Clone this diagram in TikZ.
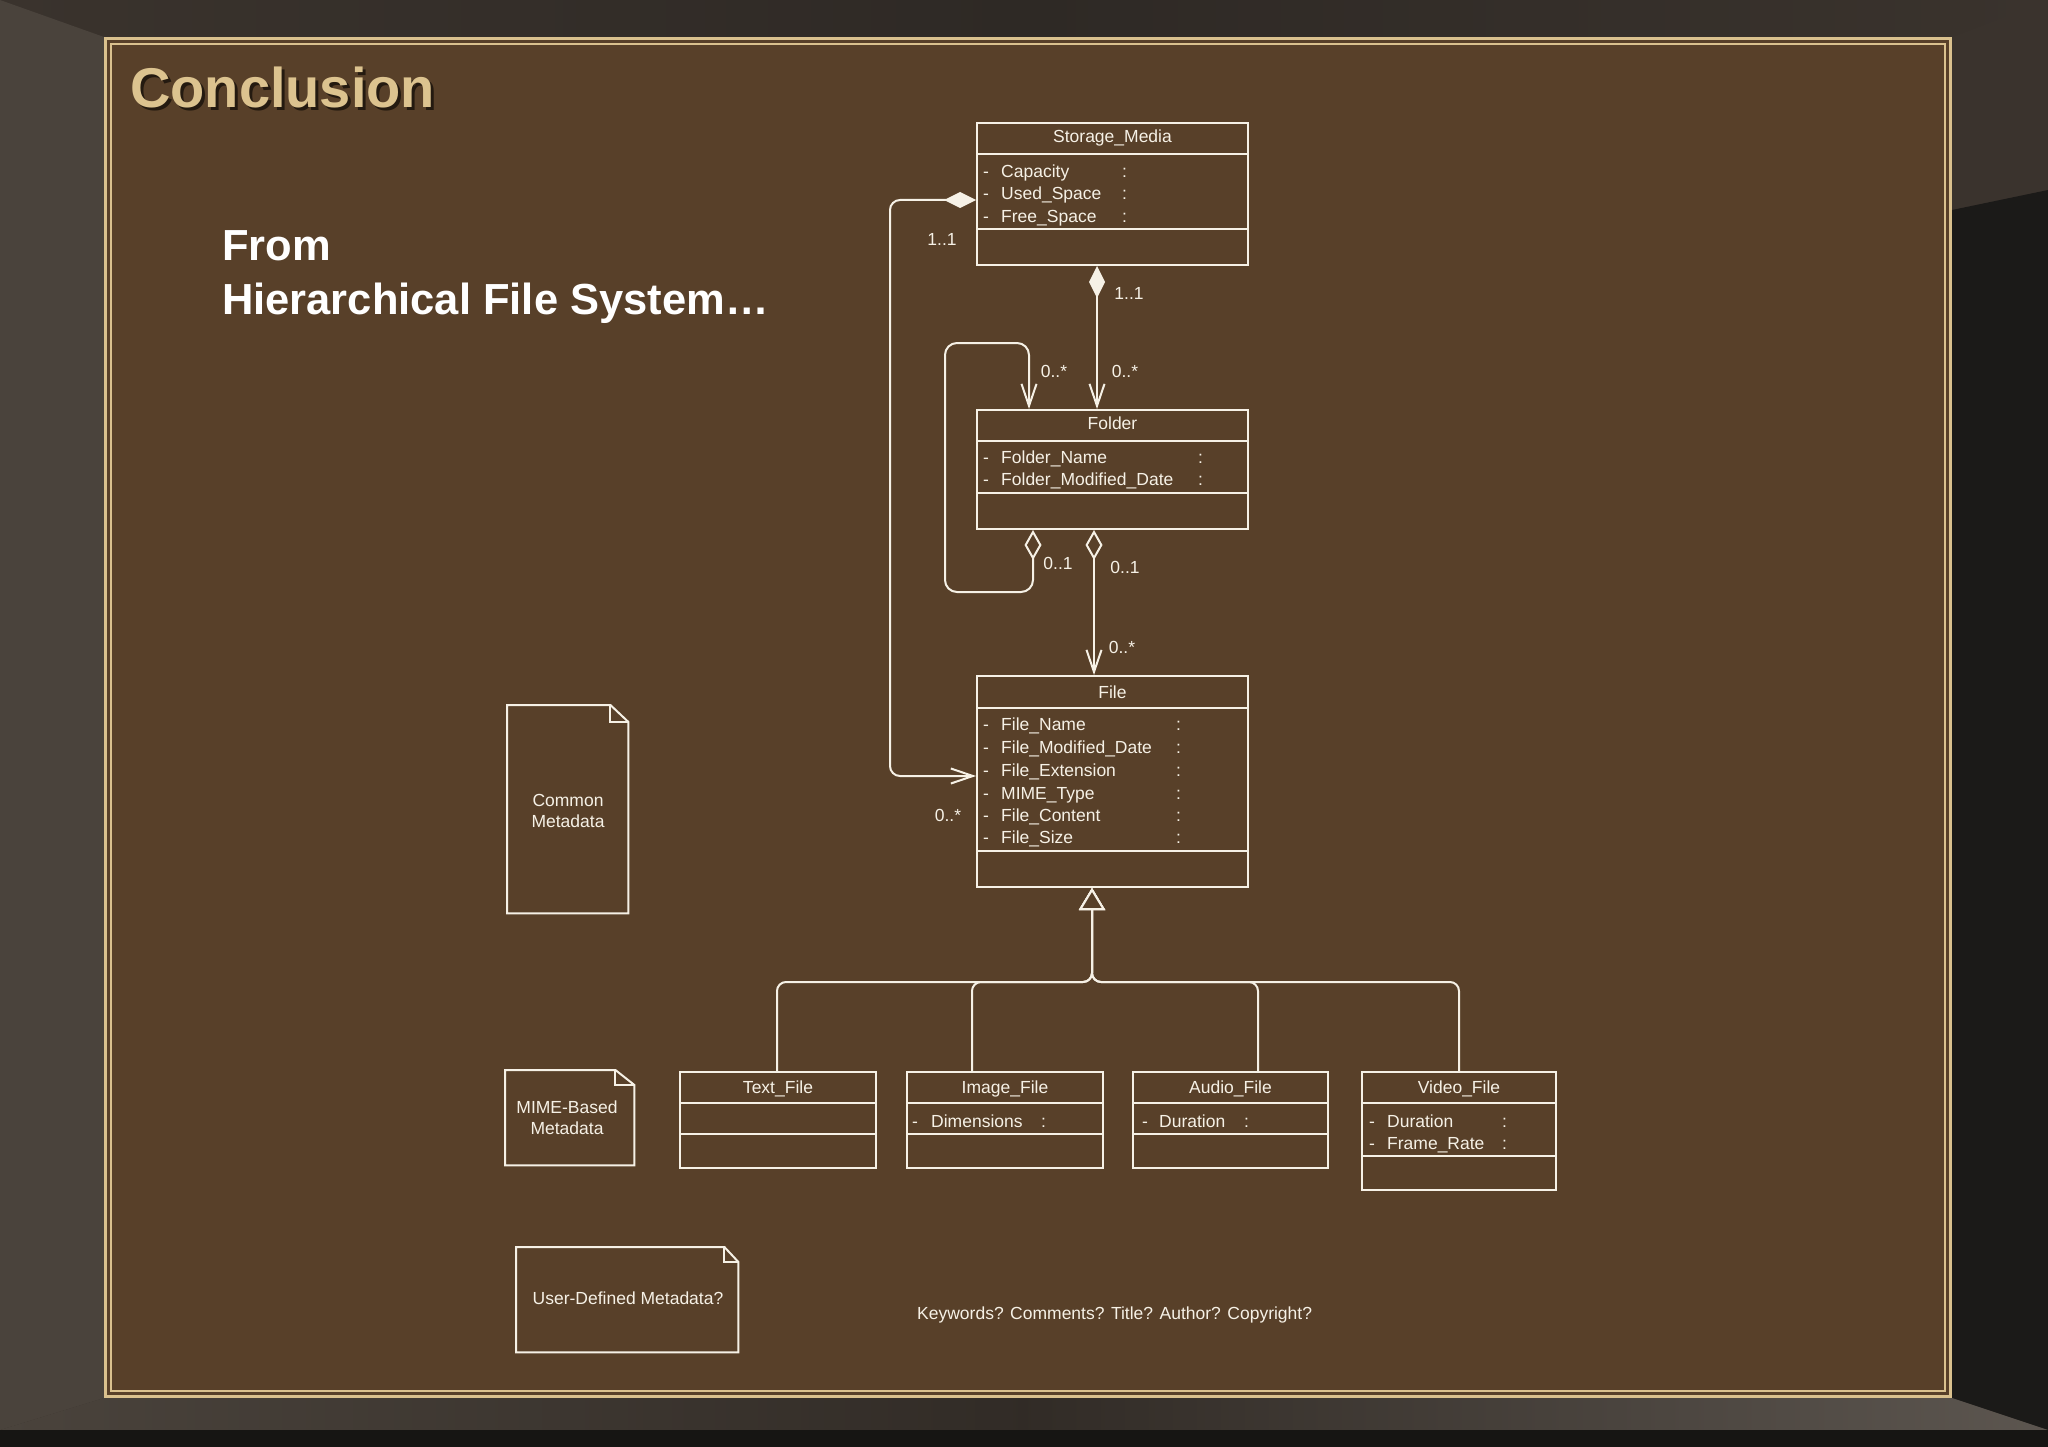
\documentclass[tikz,border=0pt]{standalone}
\usepackage{fontspec}
\setmainfont{Liberation Sans}
\usetikzlibrary{arrows.meta,calc}
\definecolor{panel}{RGB}{88,64,41}
\definecolor{gold}{RGB}{218,193,142}
\definecolor{titlegold}{RGB}{220,195,143}
\definecolor{titleshadow}{RGB}{36,26,16}
\definecolor{ink}{RGB}{246,241,230}
\definecolor{bgmid}{RGB}{58,51,45}
\definecolor{bgleft}{RGB}{74,67,60}
\definecolor{bgtop}{RGB}{46,41,37}
\definecolor{bgdark}{RGB}{27,26,24}
\newcommand\umlfont{\fontsize{17.5}{21}\selectfont}
\tikzset{
  umlbarb/.tip={Straight Barb[length=22pt,width=15pt]},
  umlfdia/.tip={Diamond[length=32pt,width=16pt]},
  umlodia/.tip={Diamond[open,length=30pt,width=17pt]},
  umlgen/.tip={Triangle[open,fill=panel,length=22pt,width=26pt]},
}
\begin{document}
\begin{tikzpicture}[x=1pt,y=-1pt,
  umlbox/.style={draw=ink,line width=2pt,inner sep=0pt,anchor=north west},
  conn/.style={draw=ink,line width=2pt},
  ctitle/.style={text=ink,font=\umlfont,inner sep=0pt,anchor=base},
  attr/.style={text=ink,font=\umlfont,inner sep=0pt,anchor=base west},
  mult/.style={text=ink,font=\umlfont,inner sep=0pt},
  notebox/.style={inner sep=0pt,anchor=north west},
  notetext/.style={text=ink,font=\umlfont,align=center,inner sep=0pt}]
\useasboundingbox (0,0) rectangle (2048,1447);
% ---------- background frame ----------
\fill[bgmid] (0,0) rectangle (2048,1447);
\shade[left color=bgmid,right color=bgmid,middle color=bgtop] (0,0) -- (2048,0) -- (1952,37) -- (104,37) -- cycle;
\fill[bgleft] (0,0) -- (104,37) -- (104,1398) -- (0,1430) -- cycle;
\fill[bgdark] (1952,210) -- (2048,190) -- (2048,1430) -- (1952,1398) -- cycle;
\shade[left color=bgleft,right color=bgleft!90!white,middle color=bgmid!85!black] (104,1398) -- (1952,1398) -- (2048,1430) -- (0,1430) -- cycle;
\fill[bgdark!80!black] (0,1430) rectangle (2048,1447);
% ---------- panel ----------
\fill[panel] (104,37) rectangle (1952,1398);
\draw[gold,line width=3pt] (105.5,38.5) rectangle (1950.5,1396.5);
\draw[gold,line width=2pt] (111,44) rectangle (1945,1391);
% ---------- titles ----------
\node[font=\fontsize{56}{60}\selectfont\bfseries,text=titleshadow,anchor=base west,inner sep=0pt] (titleS) at (133,111) {Conclusion};
\node[font=\fontsize{56}{60}\selectfont\bfseries,text=titlegold,anchor=base west,inner sep=0pt] (title) at (130,108) {Conclusion};
\node[font=\fontsize{43.5}{50}\selectfont\bfseries,text=white,anchor=base west,inner sep=0pt] (from1) at (222,261) {From};
\node[font=\fontsize{43.5}{50}\selectfont\bfseries,text=white,anchor=base west,inner sep=0pt] (from2) at (222,315) {Hierarchical File System…};
% ---------- Storage_Media ----------
\node[umlbox,minimum width=271pt,minimum height=142pt] (sm) at (976,122) {};
\draw[conn] ($(sm.north west)+(0,32)$) -- ($(sm.north east)+(0,32)$);
\draw[conn] ($(sm.north west)+(0,107)$) -- ($(sm.north east)+(0,107)$);
\node[ctitle] (smT) at ($(sm.north)+(0,21)$) {Storage\_Media};
\node[attr] (smA1) at (983,178) {\makebox[18pt][l]{-}\makebox[121pt][l]{Capacity}:};
\node[attr] (smA2) at (983,200) {\makebox[18pt][l]{-}\makebox[121pt][l]{Used\_Space}:};
\node[attr] (smA3) at (983,223) {\makebox[18pt][l]{-}\makebox[121pt][l]{Free\_Space}:};
% ---------- Folder ----------
\node[umlbox,minimum width=271pt,minimum height=119pt] (folder) at (976,409) {};
\draw[conn] ($(folder.north west)+(0,32)$) -- ($(folder.north east)+(0,32)$);
\draw[conn] ($(folder.north west)+(0,84)$) -- ($(folder.north east)+(0,84)$);
\node[ctitle] (folderT) at ($(folder.north)+(0,20)$) {Folder};
\node[attr] (foA1) at (983,463) {\makebox[18pt][l]{-}\makebox[197pt][l]{Folder\_Name}:};
\node[attr] (foA2) at (983,485) {\makebox[18pt][l]{-}\makebox[197pt][l]{Folder\_Modified\_Date}:};
% ---------- File ----------
\node[umlbox,minimum width=271pt,minimum height=211pt] (file) at (976,675) {};
\draw[conn] ($(file.north west)+(0,33)$) -- ($(file.north east)+(0,33)$);
\draw[conn] ($(file.north west)+(0,176)$) -- ($(file.north east)+(0,176)$);
\node[ctitle] (fileT) at ($(file.north)+(0,23)$) {File};
\node[attr] (fiA1) at (983,730) {\makebox[18pt][l]{-}\makebox[175pt][l]{File\_Name}:};
\node[attr] (fiA2) at (983,753) {\makebox[18pt][l]{-}\makebox[175pt][l]{File\_Modified\_Date}:};
\node[attr] (fiA3) at (983,776) {\makebox[18pt][l]{-}\makebox[175pt][l]{File\_Extension}:};
\node[attr] (fiA4) at (983,799) {\makebox[18pt][l]{-}\makebox[175pt][l]{MIME\_Type}:};
\node[attr] (fiA5) at (983,821) {\makebox[18pt][l]{-}\makebox[175pt][l]{File\_Content}:};
\node[attr] (fiA6) at (983,843) {\makebox[18pt][l]{-}\makebox[175pt][l]{File\_Size}:};
% ---------- subclasses ----------
\node[umlbox,minimum width=196pt,minimum height=96pt] (text) at (679,1071) {};
\draw[conn] ($(text.north west)+(0,32)$) -- ($(text.north east)+(0,32)$);
\draw[conn] ($(text.north west)+(0,63)$) -- ($(text.north east)+(0,63)$);
\node[ctitle] (textT) at ($(text.north)+(0,22)$) {Text\_File};
\node[umlbox,minimum width=196pt,minimum height=96pt] (image) at (906,1071) {};
\draw[conn] ($(image.north west)+(0,32)$) -- ($(image.north east)+(0,32)$);
\draw[conn] ($(image.north west)+(0,63)$) -- ($(image.north east)+(0,63)$);
\node[ctitle] (imageT) at ($(image.north)+(0,22)$) {Image\_File};
\node[attr] (imA1) at (912,1127) {\makebox[19pt][l]{-}\makebox[110pt][l]{Dimensions}:};
\node[umlbox,minimum width=195pt,minimum height=96pt] (audio) at (1132,1071) {};
\draw[conn] ($(audio.north west)+(0,32)$) -- ($(audio.north east)+(0,32)$);
\draw[conn] ($(audio.north west)+(0,63)$) -- ($(audio.north east)+(0,63)$);
\node[ctitle] (audioT) at ($(audio.north)+(0,22)$) {Audio\_File};
\node[attr] (auA1) at (1142,1127) {\makebox[17pt][l]{-}\makebox[85pt][l]{Duration}:};
\node[umlbox,minimum width=194pt,minimum height=118pt] (video) at (1361,1071) {};
\draw[conn] ($(video.north west)+(0,32)$) -- ($(video.north east)+(0,32)$);
\draw[conn] ($(video.north west)+(0,85)$) -- ($(video.north east)+(0,85)$);
\node[ctitle] (videoT) at ($(video.north)+(0,22)$) {Video\_File};
\node[attr] (viA1) at (1369,1127) {\makebox[18pt][l]{-}\makebox[115pt][l]{Duration}:};
\node[attr] (viA2) at (1369,1149) {\makebox[18pt][l]{-}\makebox[115pt][l]{Frame\_Rate}:};
% ---------- associations ----------
\draw[conn,umlfdia-umlbarb,rounded corners=10pt] ($(sm.north west)+(0,78)$) -- (890,200) -- (890,776) -- ($(file.north west)+(0,101)$);
\draw[conn,umlfdia-umlbarb] ($(sm.south west)+(121,0)$) -- ($(folder.north west)+(121,0)$);
\draw[conn,umlodia-umlbarb,rounded corners=12pt] ($(folder.south west)+(57,0)$) -- (1033,592) -- (945,592) -- (945,343) -- (1029,343) -- ($(folder.north west)+(53,0)$);
\draw[conn,umlodia-umlbarb] ($(folder.south west)+(118,0)$) -- ($(file.north west)+(118,0)$);
% ---------- multiplicities ----------
\node[mult] (m1) at (942,239) {1..1};
\node[mult] (m2) at (1129,293) {1..1};
\node[mult] (m3) at (1054,371) {0..*};
\node[mult] (m4) at (1125,371) {0..*};
\node[mult] (m5) at (1058,563) {0..1};
\node[mult] (m6) at (1125,567) {0..1};
\node[mult] (m7) at (1122,647) {0..*};
\node[mult] (m8) at (948,815) {0..*};
% ---------- generalization ----------
\draw[conn,-umlgen,rounded corners=9pt] ($(text.north west)+(98,0)$) -- (777,982) -- (1092,982) -- ($(file.south west)+(116,0)$);
\draw[conn,-umlgen,rounded corners=9pt] ($(image.north west)+(66,0)$) -- (972,982) -- (1092,982) -- ($(file.south west)+(116,0)$);
\draw[conn,-umlgen,rounded corners=9pt] ($(audio.north west)+(126,0)$) -- (1258,982) -- (1092,982) -- ($(file.south west)+(116,0)$);
\draw[conn,-umlgen,rounded corners=9pt] ($(video.north west)+(98,0)$) -- (1459,982) -- (1092,982) -- ($(file.south west)+(116,0)$);
% ---------- notes ----------
\node[notebox,minimum width=121pt,minimum height=208pt] (cm) at (507,705) {};
\draw[conn] (cm.north west) -- ($(cm.north east)+(-18,0)$) -- ($(cm.north east)+(0,17)$) -- (cm.south east) -- (cm.south west) -- cycle;
\draw[conn] ($(cm.north east)+(-18,0)$) -- ($(cm.north east)+(-18,17)$) -- ($(cm.north east)+(0,17)$);
\node[notetext] (cmT) at (568,811) {Common\\Metadata};
\node[notebox,minimum width=129pt,minimum height=95pt] (mb) at (505,1070) {};
\draw[conn] (mb.north west) -- ($(mb.north east)+(-19,0)$) -- ($(mb.north east)+(0,15)$) -- (mb.south east) -- (mb.south west) -- cycle;
\draw[conn] ($(mb.north east)+(-19,0)$) -- ($(mb.north east)+(-19,15)$) -- ($(mb.north east)+(0,15)$);
\node[notetext] (mbT) at (567,1118) {MIME-Based\\Metadata};
\node[notebox,minimum width=222pt,minimum height=105pt] (ud) at (516,1247) {};
\draw[conn] (ud.north west) -- ($(ud.north east)+(-14,0)$) -- ($(ud.north east)+(0,15)$) -- (ud.south east) -- (ud.south west) -- cycle;
\draw[conn] ($(ud.north east)+(-14,0)$) -- ($(ud.north east)+(-14,15)$) -- ($(ud.north east)+(0,15)$);
\node[notetext] (udT) at (628,1298) {User-Defined Metadata?};
\node[attr] (kw) at (917,1319) {Keywords? Comments? Title? Author? Copyright?};
\end{tikzpicture}
\end{document}
